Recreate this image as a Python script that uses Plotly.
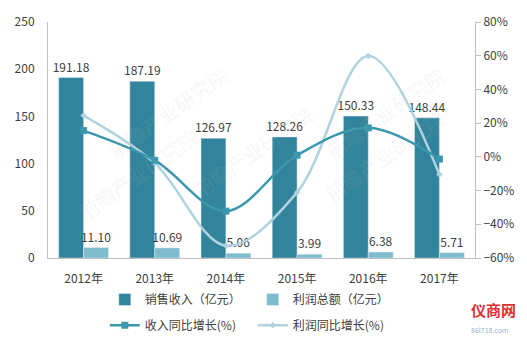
import plotly.graph_objects as go

years = ["2012年", "2013年", "2014年", "2015年", "2016年", "2017年"]
revenue = [191.18, 187.19, 126.97, 128.26, 150.33, 148.44]
profit = [11.10, 10.69, 5.06, 3.99, 6.38, 5.71]
revenue_growth = [15.6, -2.1, -32.2, 1.0, 17.2, -1.3]
profit_growth = [24.5, -3.7, -52.7, -21.1, 59.9, -10.5]

names = ["销售收入（亿元）", "利润总额（亿元）", "收入同比增长(%)", "利润同比增长(%)"]

c_rev = "#31849B"
c_pro = "#7FBCCE"
c_rg = "#3A97AE"
c_pg = "#AFD2DE"
font_fam = "Noto Sans CJK SC, Noto Sans, sans-serif"
txt = "#404040"

fig = go.Figure()
fig.add_trace(go.Bar(x=years, y=revenue, name=names[0], marker_color=c_rev,
                     text=[f"{v:.2f}" for v in revenue], textposition="outside",
                     constraintext="none",
                     textfont=dict(size=12, color=txt), cliponaxis=False, legend="legend"))
fig.add_trace(go.Bar(x=years, y=profit, name=names[1], marker_color=c_pro,
                     text=[f"{v:.2f}" for v in profit], textposition="outside",
                     constraintext="none",
                     textfont=dict(size=12, color=txt), cliponaxis=False, legend="legend"))
fig.add_trace(go.Scatter(x=years, y=profit_growth, name=names[3], yaxis="y2",
                         mode="lines+markers", line=dict(color=c_pg, width=2.5, shape="spline"),
                         marker=dict(symbol="diamond", size=5, color=c_pg), legend="legend2"))
fig.add_trace(go.Scatter(x=years, y=revenue_growth, name=names[2], yaxis="y2",
                         mode="lines+markers", line=dict(color=c_rg, width=2.5, shape="spline"),
                         marker=dict(symbol="square", size=7, color=c_rg), legend="legend2"))

# faint watermarks
for (wx, wy) in [(0.12, 0.85), (0.48, 0.45), (0.05, 0.12), (0.95, 0.85), (0.95, 0.2)]:
    fig.add_annotation(x=wx, y=wy, xref="paper", yref="paper", text="前瞻产业研究院",
                       showarrow=False, textangle=-35,
                       font=dict(size=20, color="rgba(190,190,190,0.13)", family=font_fam))

fig.add_annotation(x=0.985, y=-0.22, xref="paper", yref="paper", text="<b>仪商网</b>",
                   showarrow=False, xanchor="left", yanchor="middle",
                   font=dict(size=15, color="#E03030", family=font_fam))
fig.add_annotation(x=0.985, y=-0.305, xref="paper", yref="paper", text="86l718.com",
                   showarrow=False, xanchor="left", yanchor="middle",
                   font=dict(size=7, color="#9AB0D0", family=font_fam))

fig.update_layout(
    width=527, height=352,
    margin=dict(l=48, r=52, t=16, b=80),
    paper_bgcolor="white", plot_bgcolor="white",
    barmode="group", bargap=0.3, bargroupgap=0,
    font=dict(family=font_fam, size=12, color=txt),
    xaxis=dict(showline=True, linecolor="#BFBFBF", linewidth=1, ticks="",
               ticklabelstandoff=10,
               tickfont=dict(size=12, color=txt), showgrid=False),
    yaxis=dict(range=[0, 250], dtick=50, showline=True, linecolor="#BFBFBF",
               showgrid=False, ticks="", ticklabelstandoff=10,
               tickfont=dict(size=12, color=txt), zeroline=False),
    yaxis2=dict(range=[-60, 80], dtick=20, overlaying="y", side="right", ticksuffix="%",
                showline=True, linecolor="#BFBFBF", ticks="outside", ticklen=5,
                tickcolor="#BFBFBF", showgrid=False, zeroline=False,
                tickfont=dict(size=12, color=txt)),
    legend=dict(orientation="h", x=0.133, y=-0.176, xanchor="left", yanchor="middle",
                entrywidth=103, font=dict(size=12, color=txt), bgcolor="rgba(0,0,0,0)",
                traceorder="normal"),
    legend2=dict(orientation="h", x=0.133, y=-0.285, xanchor="left", yanchor="middle",
                 entrywidth=103, font=dict(size=12, color=txt), bgcolor="rgba(0,0,0,0)",
                 traceorder="reversed"),
    showlegend=True,
)

fig.write_html("out.html")
